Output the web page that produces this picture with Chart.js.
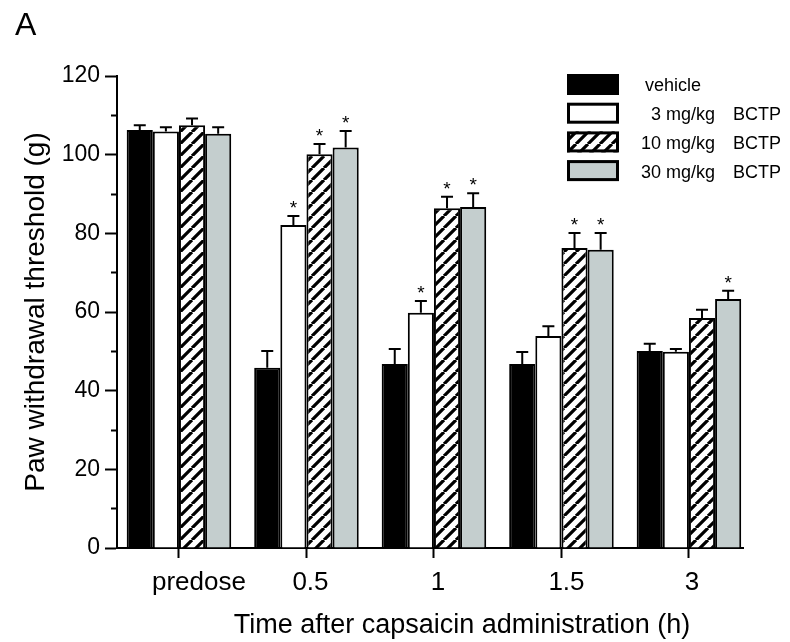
<!DOCTYPE html>
<html>
<head>
<meta charset="utf-8">
<script src="https://cdn.jsdelivr.net/npm/chart.js@4/dist/chart.umd.min.js"></script>
<style>
  html, body { margin: 0; padding: 0; background: #fff; }
  #c { display: block; }
</style>
</head>
<body>
<canvas id="c" width="790" height="642"></canvas>
<script>
// Time points after capsaicin
const timeLabels = ['predose', '0.5', '1', '1.5', '3'];
// Treatment groups
const groupNames = ['vehicle', '3 mg/kg', '10 mg/kg', '30 mg/kg'];
const drugName = 'BCTP';

// Mean paw withdrawal threshold (g) and SEM per group
const vehicle    = [106.3, 45.8, 46.8, 46.8, 50.1];
const vehicleSem = [1.2, 4.3, 3.8, 3.0, 1.8];
const bctp3      = [105.9, 82.1, 59.8, 53.9, 49.9];
const bctp3Sem   = [1.1, 2.3, 3.0, 2.5, 0.7];
const bctp10     = [107.5, 100.1, 86.4, 76.3, 58.5];
const bctp10Sem  = [1.7, 2.6, 2.9, 3.8, 2.1];
const bctp30     = [105.3, 101.8, 86.7, 75.8, 63.3];
const bctp30Sem  = [1.7, 4.2, 3.5, 4.3, 2.1];

// Significance vs vehicle (*)
const vehicleSig = [false, false, false, false, false];
const bctp3Sig   = [false, true, true, false, false];
const bctp10Sig  = [false, true, true, true, false];
const bctp30Sig  = [false, true, true, true, true];

// Labelled y ticks (minor ticks sit halfway between)
const yTicks = [0, 20, 40, 60, 80, 100, 120];

const FONT = "'Liberation Sans', Arial, Helvetica, sans-serif";

// diagonal "/" hatch used for the 10 mg/kg bars
function makeHatch() {
  const s = 12;
  const c = document.createElement('canvas');
  c.width = s; c.height = s;
  const g = c.getContext('2d');
  g.fillStyle = '#fff';
  g.fillRect(0, 0, s, s);
  g.strokeStyle = '#000';
  g.lineWidth = 3.2;
  g.beginPath();
  for (const o of [-s, 0, s]) { g.moveTo(o, s); g.lineTo(o + s, 0); }
  g.stroke();
  return g.createPattern(c, 'repeat');
}

const series = [
  { name: groupNames[0], values: vehicle, sem: vehicleSem, sig: vehicleSig, fill: '#000' },
  { name: groupNames[1], values: bctp3,   sem: bctp3Sem,   sig: bctp3Sig,   fill: '#fff' },
  { name: groupNames[2], values: bctp10,  sem: bctp10Sem,  sig: bctp10Sig,  fill: makeHatch() },
  { name: groupNames[3], values: bctp30,  sem: bctp30Sem,  sig: bctp30Sig,  fill: 'rgb(196,206,206)' }
];

// Upward SEM whiskers and significance stars
const errorBars = {
  id: 'errorBars',
  afterDatasetsDraw(chart) {
    const ctx = chart.ctx;
    const y = chart.scales.y;
    chart.data.datasets.forEach((ds, di) => {
      const meta = chart.getDatasetMeta(di);
      meta.data.forEach((bar, i) => {
        const top = y.getPixelForValue(ds.data[i].y + ds.sem[i]);
        ctx.save();
        ctx.strokeStyle = '#000';
        ctx.lineWidth = 2;
        ctx.beginPath();
        ctx.moveTo(bar.x, bar.y);
        ctx.lineTo(bar.x, top);
        ctx.moveTo(bar.x - 6, top);
        ctx.lineTo(bar.x + 6, top);
        ctx.stroke();
        if (ds.sig[i]) {
          ctx.fillStyle = '#000';
          ctx.font = '19px ' + FONT;
          ctx.textAlign = 'center';
          ctx.textBaseline = 'alphabetic';
          ctx.fillText('*', bar.x, top - 2);
        }
        ctx.restore();
      });
    });
  }
};

// Legend box in the upper right, dose column right-aligned
const legendBox = {
  id: 'legendBox',
  afterDraw(chart) {
    const { ctx, chartArea: a } = chart;
    const bx = a.right - 176, by0 = a.top - 2, bw = 52, bh = 21, step = 28.7;
    ctx.save();
    ctx.font = '18px ' + FONT;
    ctx.textBaseline = 'middle';
    chart.data.datasets.forEach((ds, i) => {
      const by = by0 + i * step;
      ctx.fillStyle = ds.backgroundColor;
      ctx.fillRect(bx, by, bw, bh);
      ctx.strokeStyle = '#000';
      ctx.lineWidth = 3;
      ctx.strokeRect(bx + 1.5, by + 1.5, bw - 3, bh - 3);
      ctx.fillStyle = '#000';
      const ty = by + bh / 2 + 2;
      if (i === 0) {
        ctx.textAlign = 'left';
        ctx.fillText(ds.groupName, bx + 78, ty);
      } else {
        ctx.textAlign = 'right';
        ctx.fillText(ds.groupName, a.right - 28, ty);
        ctx.textAlign = 'left';
        ctx.fillText(drugName, a.right - 10, ty);
      }
    });
    ctx.restore();
  }
};

// x tick labels (the first one sits a little right of its tick) and axis title
const xLabelNudge = [20, 4, 4, 5, 3];
const xText = {
  id: 'xText',
  afterDraw(chart) {
    const { ctx, chartArea: a } = chart;
    const x = chart.scales.x;
    ctx.save();
    ctx.fillStyle = '#000';
    ctx.textAlign = 'center';
    ctx.textBaseline = 'middle';
    ctx.font = '26px ' + FONT;
    timeLabels.forEach((t, i) => {
      ctx.fillText(t, x.getPixelForValue(i) + xLabelNudge[i], a.bottom + 35);
    });
    ctx.font = '27px ' + FONT;
    ctx.fillText('Time after capsaicin administration (h)', (a.left + a.right) / 2 + 32, chart.height - 16);
    ctx.restore();
  }
};

new Chart(document.getElementById('c'), {
  type: 'bar',
  data: {
    datasets: series.map(s => ({
      label: s.name === 'vehicle' ? s.name : s.name + ' ' + drugName,
      groupName: s.name,
      data: s.values.map((v, i) => ({ x: i, y: v })),
      sem: s.sem,
      sig: s.sig,
      backgroundColor: s.fill,
      borderColor: '#000',
      borderWidth: 2,
      borderSkipped: 'start'
    }))
  },
  options: {
    responsive: false,
    animation: false,
    layout: { padding: { left: 15, right: 47, top: 0, bottom: 0 } },
    datasets: { bar: { categoryPercentage: 0.82, barPercentage: 1 } },
    plugins: {
      legend: { display: false },
      tooltip: { enabled: false },
      title: {
        display: true, text: 'A', align: 'start', color: '#000',
        font: { family: FONT, size: 32, weight: 'normal' },
        padding: { top: 7, bottom: 30.6 }
      }
    },
    scales: {
      x: {
        type: 'linear', min: -0.486, max: 4.424, offset: false,
        afterFit: s => { s.height = 94; },
        border: { display: true, color: '#000', width: 2 },
        grid: { offset: false, drawOnChartArea: false, drawTicks: true, tickLength: 10, tickColor: '#000', tickWidth: 2 },
        ticks: {
          stepSize: 1, includeBounds: false, autoSkip: false, maxRotation: 0,
          color: 'rgba(0,0,0,0)', font: { family: FONT, size: 26 },
          callback: v => timeLabels[v] ?? ''
        }
      },
      y: {
        min: 0, max: 120,
        afterFit: s => { s.width = 102; },
        border: { display: true, color: '#000', width: 2 },
        grid: {
          drawOnChartArea: false, drawTicks: true, tickLength: 12, tickColor: '#000', tickWidth: 2,
          tickBorderDash: ctx => (ctx.tick && !yTicks.includes(ctx.tick.value)) ? [0, 6, 8, 100] : []
        },
        ticks: {
          stepSize: 10, padding: 5, color: '#000', font: { family: FONT, size: 23 },
          callback: v => yTicks.includes(v) ? String(v) : ''
        },
        title: {
          display: true, text: 'Paw withdrawal threshold (g)', color: '#000',
          font: { family: FONT, size: 28 }, padding: { top: 4, bottom: 0 }
        }
      }
    }
  },
  plugins: [errorBars, legendBox, xText]
});
</script>
</body>
</html>
